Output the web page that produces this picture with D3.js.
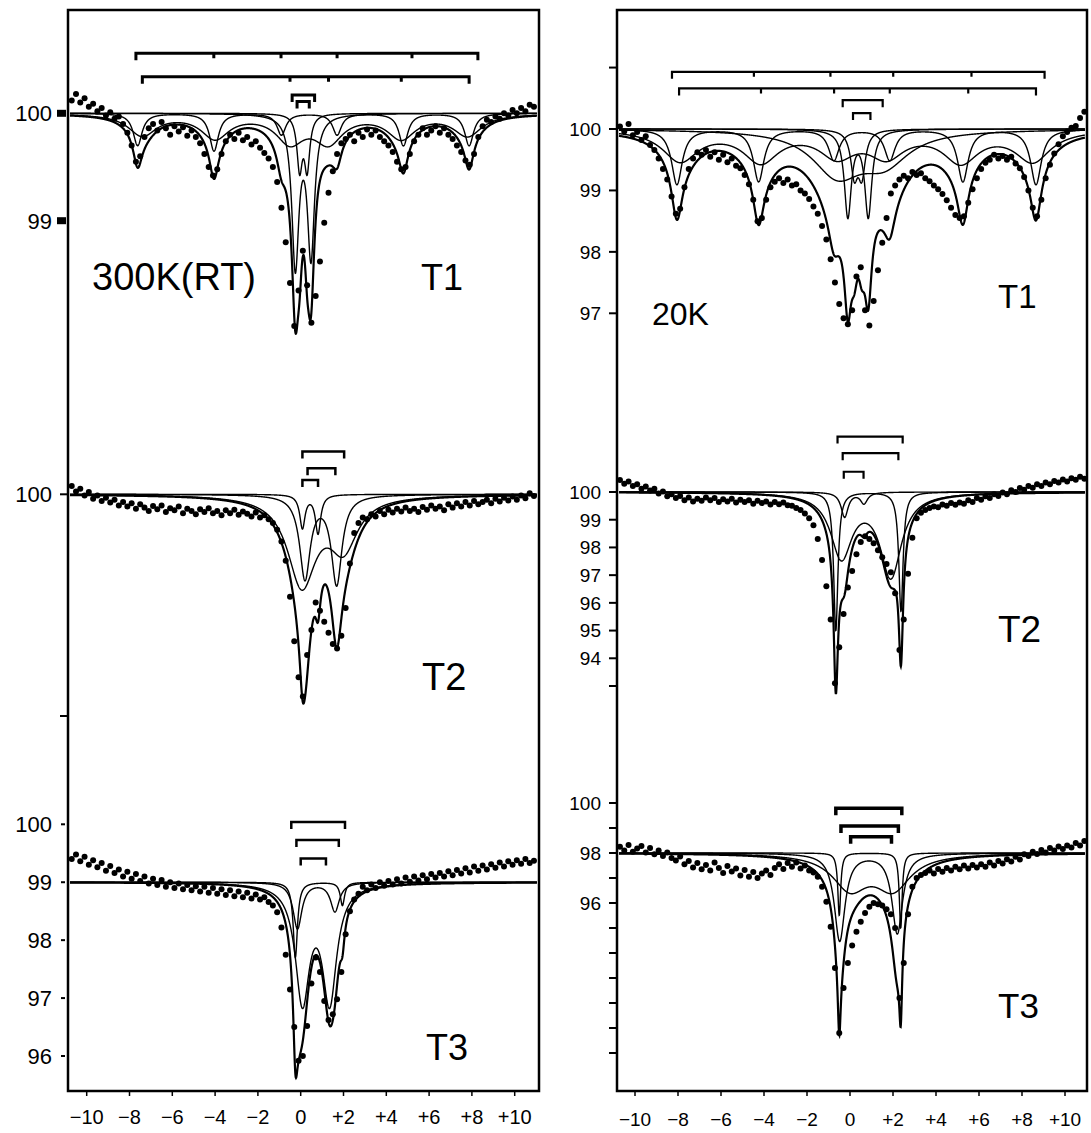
<!DOCTYPE html>
<html>
<head>
<meta charset="utf-8">
<script src="https://cdn.jsdelivr.net/npm/d3@7"></script>
<style>
  body { margin: 0; background: #fff; }
  svg { display: block; }
  text { font-family: "Liberation Sans", Arial, sans-serif; fill: #000; }
</style>
</head>
<body>
<svg id="chart" width="1091" height="1133"></svg>
<script>
// velocity channels (mm/s), shared by all six spectra
const velocity = [
  -10.7, -10.5, -10.3, -10.1, -9.9, -9.7, -9.5, -9.3, -9.1, -8.9,
  -8.7, -8.5, -8.3, -8.1, -7.9, -7.7, -7.5, -7.3, -7.1, -6.9,
  -6.7, -6.5, -6.3, -6.1, -5.9, -5.7, -5.5, -5.3, -5.1, -4.9,
  -4.7, -4.5, -4.3, -4.1, -3.9, -3.7, -3.5, -3.3, -3.1, -2.9,
  -2.7, -2.5, -2.3, -2.1, -1.9, -1.7, -1.5, -1.3, -1.1, -0.9,
  -0.7, -0.5, -0.3, -0.1, 0.1, 0.3, 0.5, 0.7, 0.9, 1.1,
  1.3, 1.5, 1.7, 1.9, 2.1, 2.3, 2.5, 2.7, 2.9, 3.1,
  3.3, 3.5, 3.7, 3.9, 4.1, 4.3, 4.5, 4.7, 4.9, 5.1,
  5.3, 5.5, 5.7, 5.9, 6.1, 6.3, 6.5, 6.7, 6.9, 7.1,
  7.3, 7.5, 7.7, 7.9, 8.1, 8.3, 8.5, 8.7, 8.9, 9.1,
  9.3, 9.5, 9.7, 9.9, 10.1, 10.3, 10.5, 10.7, 10.9
]

// measured transmission (%)
const leftT1 = [
  100.12, 100.18, 100.10, 100.14, 100.06, 100.09, 100.02, 100.05, 99.98, 100.01,
  99.95, 99.97, 99.90, 99.82, 99.70, 99.55, 99.60, 99.78, 99.86, 99.90,
  99.84, 99.92, 99.86, 99.80, 99.88, 99.83, 99.87, 99.79, 99.84, 99.78,
  99.72, 99.62, 99.50, 99.42, 99.48, 99.62, 99.74, 99.80, 99.76, 99.82,
  99.75, 99.78, 99.71, 99.74, 99.68, 99.63, 99.58, 99.50, 99.36, 99.12,
  98.80, 98.42, 98.02, 98.35, 98.72, 98.40, 98.05, 98.30, 98.62, 98.98,
  99.26, 99.46, 99.62, 99.72, 99.76, 99.80, 99.74, 99.82, 99.78, 99.85,
  99.80, 99.84, 99.78, 99.74, 99.70, 99.64, 99.55, 99.48, 99.50, 99.62,
  99.74, 99.80, 99.86, 99.80, 99.84, 99.88, 99.82, 99.86, 99.80, 99.76,
  99.70, 99.64, 99.56, 99.52, 99.62, 99.78, 99.88, 99.94, 99.92, 99.97,
  99.95, 100.00, 99.98, 100.03, 100.00, 100.05, 100.02, 100.08, 100.06
]
const leftT2 = [
  100.15, 100.05, 100.10, 99.98, 100.04, 99.92, 99.98, 99.88, 99.94, 99.85,
  99.90, 99.80, 99.86, 99.78, 99.84, 99.74, 99.82, 99.76, 99.70, 99.79,
  99.73, 99.80, 99.68, 99.75, 99.71, 99.78, 99.66, 99.74, 99.70, 99.64,
  99.73, 99.68, 99.75, 99.66, 99.70, 99.62, 99.71, 99.66, 99.72, 99.63,
  99.69, 99.65, 99.60, 99.67, 99.58, 99.62, 99.55, 99.48, 99.36, 99.15,
  98.80, 98.15, 97.35, 96.70, 96.35, 97.10, 97.55, 98.05, 97.90, 97.70,
  97.50, 97.30, 97.22, 97.45, 97.95, 98.75, 99.30, 99.48, 99.58, 99.55,
  99.64, 99.60, 99.70, 99.64, 99.72, 99.67, 99.74, 99.69, 99.76, 99.70,
  99.74, 99.68, 99.77, 99.72, 99.80, 99.74, 99.78, 99.71, 99.82, 99.76,
  99.84, 99.78, 99.86, 99.80, 99.88, 99.82, 99.86, 99.90, 99.84, 99.92,
  99.87, 99.94, 99.89, 99.96, 99.90, 99.98, 99.93, 100.02, 99.97
]
const leftT3 = [
  99.40, 99.48, 99.36, 99.44, 99.30, 99.38, 99.26, 99.33, 99.20, 99.28,
  99.16, 99.22, 99.10, 99.18, 99.06, 99.14, 99.02, 99.10, 98.98, 99.06,
  98.95, 99.04, 98.92, 99.00, 98.90, 98.98, 98.88, 98.95, 98.86, 98.93,
  98.84, 98.92, 98.82, 98.90, 98.80, 98.88, 98.78, 98.86, 98.76, 98.84,
  98.74, 98.82, 98.72, 98.79, 98.70, 98.74, 98.66, 98.60, 98.48, 98.22,
  97.75, 97.15, 96.50, 95.92, 96.00, 96.52, 97.25, 97.70, 97.45, 96.95,
  96.62, 96.72, 96.98, 97.45, 98.10, 98.50, 98.70, 98.80, 98.92, 98.86,
  98.96, 98.90, 99.00, 98.94, 99.02, 98.96, 99.05, 98.98, 99.08, 99.01,
  99.10, 99.03, 99.12, 99.05, 99.14, 99.08, 99.16, 99.10, 99.19, 99.12,
  99.21, 99.15, 99.24, 99.17, 99.27, 99.20, 99.29, 99.22, 99.31, 99.25,
  99.34, 99.27, 99.36, 99.30, 99.38, 99.32, 99.40, 99.33, 99.37
]
const rightT1 = [
  100.04, 99.96, 100.08, 99.90, 99.95, 99.82, 99.88, 99.74, 99.66, 99.52,
  99.35, 99.18, 98.90, 98.62, 98.70, 99.05, 99.35, 99.52, 99.62, 99.58,
  99.66, 99.55, 99.62, 99.50, 99.58, 99.46, 99.52, 99.40, 99.36, 99.25,
  99.10, 98.85, 98.50, 98.55, 98.85, 99.05, 99.14, 99.20, 99.12, 99.18,
  99.08, 99.10, 99.00, 98.95, 98.86, 98.74, 98.62, 98.42, 98.20, 97.88,
  97.50, 97.15, 96.92, 96.82, 97.05, 97.60, 97.75, 97.05, 96.80, 97.20,
  97.70, 98.15, 98.55, 98.95, 99.08, 99.18, 99.24, 99.20, 99.30, 99.25,
  99.28, 99.20, 99.15, 99.08, 99.02, 98.94, 98.84, 98.72, 98.60, 98.55,
  98.58, 98.80, 99.02, 99.20, 99.35, 99.45, 99.50, 99.58, 99.52, 99.56,
  99.50, 99.55, 99.44, 99.36, 99.22, 99.00, 98.72, 98.58, 98.85, 99.20,
  99.42, 99.60, 99.75, 99.88, 99.95, 100.02, 100.05, 100.18, 100.28
]
const rightT2 = [
  100.43, 100.30, 100.38, 100.22, 100.28, 100.12, 100.20, 100.05, 100.12, 99.95,
  100.02, 99.85, 99.92, 99.78, 99.86, 99.70, 99.80, 99.66, 99.76, 99.68,
  99.80, 99.70, 99.78, 99.64, 99.74, 99.66, 99.76, 99.62, 99.72, 99.64,
  99.70, 99.58, 99.68, 99.60, 99.66, 99.55, 99.64, 99.56, 99.62, 99.52,
  99.50, 99.42, 99.35, 99.22, 99.05, 98.80, 98.30, 97.55, 96.60, 95.40,
  93.10, 94.40, 95.60, 96.55, 97.15, 97.75, 98.20, 98.40, 98.30, 98.15,
  97.90, 97.65, 97.40, 97.10, 96.35, 94.30, 95.40, 97.05, 98.35, 99.05,
  99.25, 99.35, 99.42, 99.48, 99.45, 99.55, 99.50, 99.60, 99.54, 99.62,
  99.58, 99.70, 99.64, 99.78, 99.72, 99.85, 99.78, 99.92, 99.86, 99.98,
  99.92, 100.06, 100.00, 100.14, 100.08, 100.22, 100.15, 100.28, 100.22, 100.34,
  100.28, 100.40, 100.34, 100.45, 100.38, 100.50, 100.44, 100.55, 100.48
]
const rightT3 = [
  98.25, 98.10, 98.32, 98.05, 98.18, 98.28, 98.02, 98.20, 97.95, 98.10,
  97.88, 98.02, 97.80, 97.70, 97.86, 97.55, 97.68, 97.42, 97.60, 97.35,
  97.52, 97.30, 97.62, 97.40, 97.20, 97.48, 97.26, 97.38, 97.10, 97.32,
  97.05, 97.24, 97.00, 97.18, 97.30, 97.12, 97.40, 97.55, 97.36, 97.60,
  97.45, 97.62, 97.38, 97.50, 97.30, 97.22, 97.05, 96.65, 96.05, 95.05,
  93.40, 90.80, 92.60, 93.60, 94.30, 94.85, 95.25, 95.60, 95.85, 96.00,
  95.95, 95.90, 95.75, 95.55, 95.00, 92.20, 93.60, 95.55, 96.65, 97.00,
  97.12, 97.20, 97.30, 97.18, 97.36, 97.25, 97.40, 97.30, 97.45, 97.35,
  97.50, 97.38, 97.52, 97.42, 97.55, 97.45, 97.62, 97.50, 97.68, 97.58,
  97.75, 97.66, 97.85, 97.74, 97.95, 97.88, 98.05, 97.96, 98.12, 98.02,
  98.20, 98.10, 98.26, 98.16, 98.30, 98.22, 98.40, 98.30, 98.48
]

// fitted sub-spectra: line positions (mm/s), depths (%), half width (mm/s)
const leftT1Fit = [
  {pos: [-7.62, -4.05, -0.9, 1.7, 4.8, 7.87], depth: [0.3, 0.35, 0.2, 0.2, 0.3, 0.3], hw: 0.25},
  {pos: [-7.4, -4.0, -0.5, 1.3, 4.7, 7.8], depth: [0.2, 0.22, 0.25, 0.25, 0.22, 0.2], hw: 0.8},
  {pos: [-0.25, 0.48], depth: [1.4, 1.3], hw: 0.2},
  {pos: [-0.05, 0.3], depth: [0.5, 0.5], hw: 0.15}
]
const leftT2Fit = [
  {pos: [0.2, 1.68], depth: [1.5, 1.6], hw: 0.3},
  {pos: [0.05, 2.0], depth: [1.6, 0.9], hw: 0.8},
  {pos: [0.08, 0.81], depth: [0.6, 0.7], hw: 0.15}
]
const leftT3Fit = [
  {pos: [0.08, 1.35], depth: [2.0, 2.0], hw: 0.4},
  {pos: [-0.15, 1.6], depth: [0.8, 0.5], hw: 0.25},
  {pos: [-0.25, 1.95], depth: [1.3, 0.4], hw: 0.12}
]
const rightT1Fit = [
  {pos: [-8.05, -4.25, -0.75, 1.85, 5.25, 8.65], depth: [0.9, 0.85, 0.5, 0.5, 0.85, 0.9], hw: 0.3},
  {pos: [-7.9, -4.15, -0.6, 1.7, 5.15, 8.5], depth: [0.5, 0.5, 0.4, 0.4, 0.5, 0.5], hw: 1.0},
  {pos: [-0.6, 1.6], depth: [0.7, 0.5], hw: 1.4},
  {pos: [-0.1, 0.85], depth: [1.4, 1.4], hw: 0.2},
  {pos: [0.2, 0.55], depth: [0.7, 0.7], hw: 0.2}
]
const rightT2Fit = [
  {pos: [-0.66, 2.37], depth: [5.0, 4.3], hw: 0.12},
  {pos: [-0.4, 1.9], depth: [2.3, 3.0], hw: 0.6},
  {pos: [-0.25, 0.65], depth: [0.9, 0.4], hw: 0.2}
]
const rightT3Fit = [
  {pos: [-0.5, 2.36], depth: [2.5, 3.0], hw: 0.08},
  {pos: [-0.48, 2.2], depth: [3.5, 3.2], hw: 0.3},
  {pos: [0.0, 2.0], depth: [1.35, 1.35], hw: 1.0}
]

// stick diagrams above each spectrum: level (%) and line positions (mm/s)
const leftT1Brackets = [
  {level: 100.56, pos: [-7.7, -4.06, -0.92, 1.7, 5.2, 8.28]},
  {level: 100.34, pos: [-7.4, -0.5, 1.3, 4.7, 7.87]},
  {level: 100.17, pos: [-0.4, 0.65]},
  {level: 100.11, pos: [-0.17, 0.4]}
]
const leftT2Brackets = [
  {level: 100.77, pos: [0.08, 2.03]},
  {level: 100.47, pos: [0.32, 1.62]},
  {level: 100.26, pos: [0.08, 0.81]}
]
const leftT3Brackets = [
  {level: 100.04, pos: [-0.44, 2.07]},
  {level: 99.73, pos: [-0.2, 1.78]},
  {level: 99.41, pos: [0.0, 1.18]}
]
const rightT1Brackets = [
  {level: 100.93, pos: [-8.28, -4.47, -0.91, 2.01, 5.65, 9.05]},
  {level: 100.66, pos: [-7.95, -4.14, -0.74, 1.85, 5.5, 8.65]},
  {level: 100.47, pos: [-0.34, 1.52]},
  {level: 100.26, pos: [0.14, 0.95]}
]
const rightT2Brackets = [
  {level: 102.0, pos: [-0.58, 2.45]},
  {level: 101.4, pos: [-0.34, 2.25]},
  {level: 100.73, pos: [-0.29, 0.63]}
]
const rightT3Brackets = [
  {level: 99.79, pos: [-0.66, 2.41]},
  {level: 99.08, pos: [-0.42, 2.25]},
  {level: 98.65, pos: [0.03, 1.93]}
]

// axis ticks
const xTicks = [-10, -8, -6, -4, -2, 0, 2, 4, 6, 8, 10]
const xTickLabels = ["\u221210", "\u22128", "\u22126", "\u22124", "\u22122", "0", "+2", "+4", "+6", "+8", "+10"]
const leftT1Ticks = [100, 99]
const leftT1TickLabels = ["100", "99"]
const leftT2Ticks = [100, 96]
const leftT2TickLabels = ["100", ""]
const leftT3Ticks = [100, 99, 98, 97, 96]
const leftT3TickLabels = ["100", "99", "98", "97", "96"]
const rightT1Ticks = [101, 100, 99, 98, 97]
const rightT1TickLabels = ["", "100", "99", "98", "97"]
const rightT2Ticks = [100, 99, 98, 97, 96, 95, 94, 93]
const rightT2TickLabels = ["100", "99", "98", "97", "96", "95", "94", ""]
const rightT3Ticks = [100, 99, 98, 97, 96, 95, 94, 93, 92, 91, 90]
const rightT3TickLabels = ["100", "", "98", "", "96", "", "", "", "", "", ""]

// page layout (pixels)
const columns = [
  {
    frame: [68, 10, 539, 1091], xRange: [86.7, 514.7], labelFont: 22, xLabelFont: 20, xLabelY: 1124,
    panels: [
      {data: leftT1, fit: leftT1Fit, base: 100, brackets: leftT1Brackets, bracketWidth: 3,
        ticks: leftT1Ticks, tickLabels: leftT1TickLabels, tickStyle: "block",
        yDomain: [100, 99], yRange: [113.3, 220.7],
        titles: [{text: "300K(RT)", x: 92, y: 290, size: 38}, {text: "T1", x: 421, y: 290, size: 36}]},
      {data: leftT2, fit: leftT2Fit, base: 100, brackets: leftT2Brackets, bracketWidth: 2.5,
        ticks: leftT2Ticks, tickLabels: leftT2TickLabels, tickStyle: "line",
        yDomain: [100, 96], yRange: [494.3, 716],
        titles: [{text: "T2", x: 422, y: 690, size: 38}]},
      {data: leftT3, fit: leftT3Fit, base: 99, brackets: leftT3Brackets, bracketWidth: 2.5,
        ticks: leftT3Ticks, tickLabels: leftT3TickLabels, tickStyle: "dot",
        yDomain: [100, 96], yRange: [824.3, 1056],
        titles: [{text: "T3", x: 426, y: 1060, size: 36}]}
    ]
  },
  {
    frame: [617, 10, 1087, 1091], xRange: [635, 1065], labelFont: 19, xLabelFont: 19, xLabelY: 1126,
    panels: [
      {data: rightT1, fit: rightT1Fit, base: 100, brackets: rightT1Brackets, bracketWidth: 2.2,
        ticks: rightT1Ticks, tickLabels: rightT1TickLabels, tickStyle: "line",
        yDomain: [100, 97], yRange: [129, 313.3],
        titles: [{text: "20K", x: 652, y: 325, size: 32}, {text: "T1", x: 998, y: 308, size: 33}]},
      {data: rightT2, fit: rightT2Fit, base: 100, brackets: rightT2Brackets, bracketWidth: 2.2,
        ticks: rightT2Ticks, tickLabels: rightT2TickLabels, tickStyle: "line",
        yDomain: [100, 93], yRange: [492, 686],
        titles: [{text: "T2", x: 998, y: 642, size: 37}]},
      {data: rightT3, fit: rightT3Fit, base: 98, brackets: rightT3Brackets, bracketWidth: 3.5,
        ticks: rightT3Ticks, tickLabels: rightT3TickLabels, tickStyle: "line",
        yDomain: [100, 90], yRange: [803, 1053],
        titles: [{text: "T3", x: 998, y: 1018, size: 35}]}
    ]
  }
]

const svg = d3.select("#chart")

// one Lorentzian sub-spectrum evaluated at velocity v
function absorption(comp, v) {
  return d3.sum(comp.pos, (p, i) => comp.depth[i] / (1 + ((v - p) / comp.hw) ** 2))
}

columns.forEach(col => {
  const [x0, y0, x1, y1] = col.frame
  const x = d3.scaleLinear().domain([-10, 10]).range(col.xRange)
  const g = svg.append("g")

  // frame
  g.append("rect")
    .attr("x", x0).attr("y", y0)
    .attr("width", x1 - x0).attr("height", y1 - y0)
    .attr("fill", "none").attr("stroke", "#000").attr("stroke-width", 2.5)

  // velocity axis
  const xAxis = g.append("g").attr("class", "x-axis")
  xAxis.selectAll("line").data(xTicks).join("line")
    .attr("x1", d => x(d)).attr("x2", d => x(d))
    .attr("y1", y1).attr("y2", y1 + 5)
    .attr("stroke", "#000").attr("stroke-width", 1.5)
  xAxis.selectAll("text").data(xTicks).join("text")
    .attr("x", d => x(d)).attr("y", col.xLabelY)
    .attr("text-anchor", "middle")
    .attr("font-size", col.xLabelFont)
    .text((d, i) => xTickLabels[i])

  // velocity grid for the fitted curves, clipped to the frame
  const vFine = d3.range(x.invert(x0 + 2), x.invert(x1 - 2), 0.01)

  col.panels.forEach(p => {
    const y = d3.scaleLinear().domain(p.yDomain).range(p.yRange)
    const pg = g.append("g")

    // transmission ticks
    const ticks = pg.append("g").attr("class", "y-axis")
    if (p.tickStyle == "block") {
      ticks.selectAll("rect").data(p.ticks).join("rect")
        .attr("x", x0 - 11).attr("y", d => y(d) - 3.5)
        .attr("width", 9).attr("height", 7).attr("fill", "#000")
    } else {
      ticks.selectAll("line").data(p.ticks).join("line")
        .attr("x1", p.tickStyle == "dot" ? x0 - 7 : x0 - 8)
        .attr("x2", p.tickStyle == "dot" ? x0 - 3 : x0)
        .attr("y1", d => y(d)).attr("y2", d => y(d))
        .attr("stroke", "#000").attr("stroke-width", 2)
    }
    ticks.selectAll("text").data(p.ticks).join("text")
      .attr("x", x0 - 16).attr("y", d => y(d))
      .attr("dy", "0.36em")
      .attr("text-anchor", "end")
      .attr("font-size", col.labelFont)
      .text((d, i) => p.tickLabels[i])

    // sub-spectra and their sum
    const line = d3.line().x(d => x(d[0])).y(d => y(d[1]))
    p.fit.forEach(comp => {
      pg.append("path")
        .datum(vFine.map(v => [v, p.base - absorption(comp, v)]))
        .attr("d", line)
        .attr("fill", "none").attr("stroke", "#000").attr("stroke-width", 1.4)
    })
    pg.append("path")
      .datum(vFine.map(v => [v, p.base - d3.sum(p.fit, c => absorption(c, v))]))
      .attr("d", line)
      .attr("fill", "none").attr("stroke", "#000").attr("stroke-width", 2.2)

    // measured points
    pg.append("g").selectAll("circle").data(p.data).join("circle")
      .attr("cx", (d, i) => x(velocity[i]))
      .attr("cy", d => y(d))
      .attr("r", 3)
      .attr("fill", "#000")

    // stick diagrams
    pg.append("g").selectAll("path").data(p.brackets).join("path")
      .attr("d", b => {
        const yb = y(b.level)
        const xs = b.pos.map(x)
        const first = xs[0], last = xs[xs.length - 1]
        let d = "M" + first + "," + (yb + 7) + "L" + first + "," + yb + "L" + last + "," + yb + "L" + last + "," + (yb + 7)
        xs.slice(1, -1).forEach(xi => { d += "M" + xi + "," + yb + "L" + xi + "," + (yb + 5) })
        return d
      })
      .attr("fill", "none").attr("stroke", "#000")
      .attr("stroke-width", p.bracketWidth)

    // panel titles
    pg.selectAll("text.title").data(p.titles).join("text")
      .attr("class", "title")
      .attr("x", d => d.x).attr("y", d => d.y)
      .attr("font-size", d => d.size)
      .text(d => d.text)
  })
})
</script>
</body>
</html>
